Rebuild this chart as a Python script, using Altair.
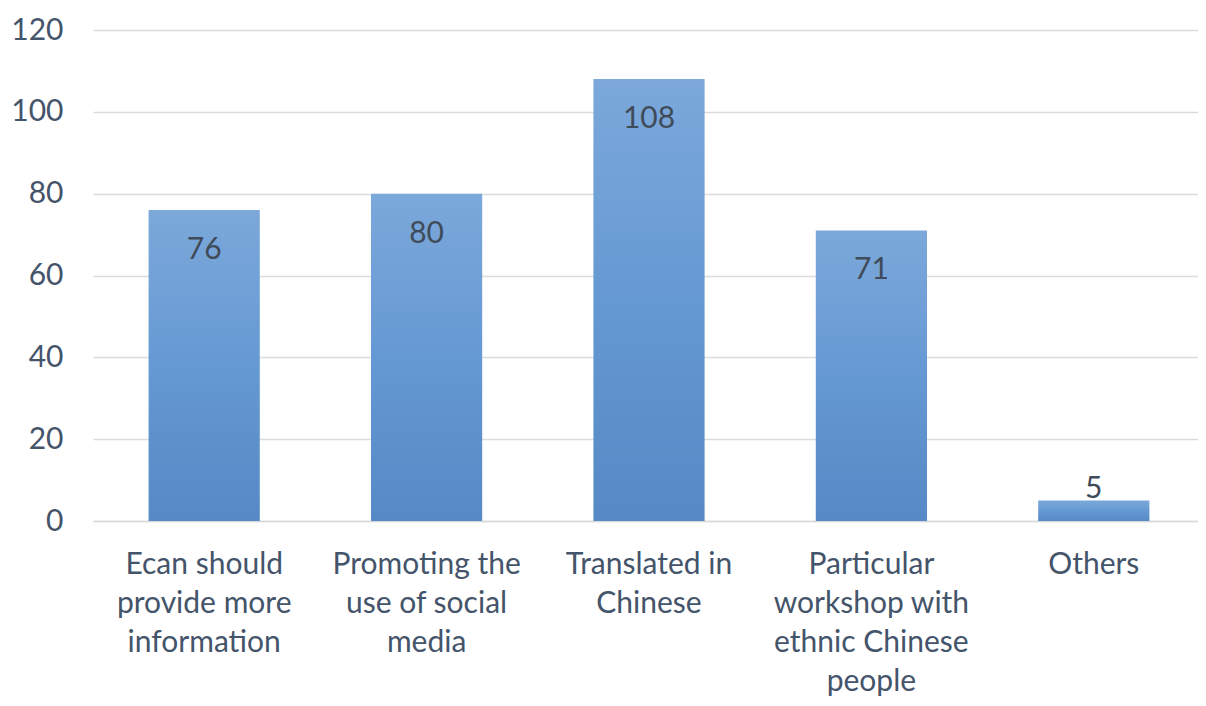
import altair as alt
import pandas as pd

categories = [
    "Ecan should\nprovide more\ninformation",
    "Promoting the\nuse of social\nmedia",
    "Translated in\nChinese",
    "Particular\nworkshop with\nethnic Chinese\npeople",
    "Others",
]
values = [76, 80, 108, 71, 5]
y_ticks = [0, 20, 40, 60, 80, 100, 120]

df = pd.DataFrame({"category": categories, "value": values})

FONT = "Lato"
TXT = "#44546A"
FS = 30

x = alt.X(
    "category:N",
    sort=categories,
    scale=alt.Scale(paddingInner=0.5, paddingOuter=0.25, range=[0, 1112]),
    axis=alt.Axis(
        title=None,
        labelAngle=0,
        labelExpr="split(datum.label, '\\n')",
        labelFontSize=FS,
        labelFont=FONT,
        labelColor=TXT,
        labelLineHeight=39,
        labelPadding=28,
        labelBaseline="top",
        ticks=False,
        grid=False,
        domain=True,
        domainColor="#D9D9D9",
        domainWidth=1.5,
        labelLimit=300,
    ),
)

y = alt.Y(
    "value:Q",
    scale=alt.Scale(domain=[0, 120], nice=False),
    axis=alt.Axis(
        title=None,
        values=y_ticks,
        labelFontSize=FS,
        labelFont=FONT,
        labelColor=TXT,
        labelPadding=30,
        ticks=False,
        domain=False,
        gridColor="#DCDCDC",
        gridWidth=1.5,
    ),
)

bars = alt.Chart(df).mark_bar(
    color=alt.Gradient(
        gradient="linear",
        stops=[
            alt.GradientStop(color="#7CA8DA", offset=0),
            alt.GradientStop(color="#6599D3", offset=0.5),
            alt.GradientStop(color="#5689C5", offset=1),
        ],
        x1=0, x2=0, y1=0, y2=1,
    )
).encode(x=x, y=y)

label_inside = alt.Chart(df).transform_filter("datum.value >= 20").mark_text(
    baseline="top", dy=25, fontSize=FS, font=FONT, color="#404B5A"
).encode(x=x, y=y, text="value:Q")

label_above = alt.Chart(df).transform_filter("datum.value < 20").mark_text(
    baseline="bottom", dy=3, fontSize=FS, font=FONT, color="#404B5A"
).encode(x=x, y=y, text="value:Q")

chart = (
    alt.layer(bars, label_inside, label_above)
    .properties(
        width=1104,
        height=491,
        autosize=alt.AutoSizeParams(type="none"),
        padding={"left": 85, "top": 22, "right": 1, "bottom": 177},
        background="white",
    )
    .configure_view(strokeWidth=0, stroke="transparent")
)

chart.save("out.html", embed_options={"renderer": "svg", "actions": False})
